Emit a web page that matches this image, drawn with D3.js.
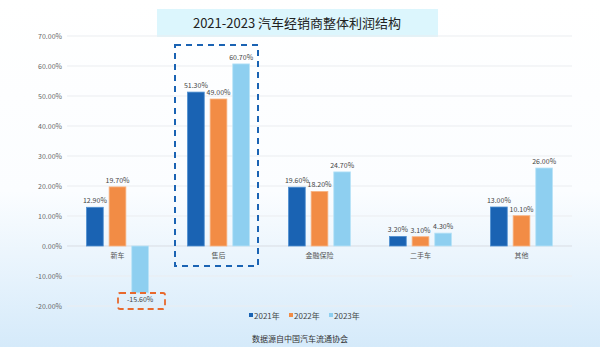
<!DOCTYPE html>
<html><head><meta charset="utf-8">
<script src="https://cdn.jsdelivr.net/npm/d3@7/dist/d3.min.js"></script>
<style>body{margin:0;padding:0;overflow:hidden}svg{display:block}</style>
</head><body>
<script>
const categories = ["新车","售后","金融保险","二手车","其他"];
const seriesNames = ["2021年","2022年","2023年"];
const v2021 = [12.9, 51.3, 19.6, 3.2, 13.0];
const v2022 = [19.7, 49.0, 18.2, 3.1, 10.1];
const v2023 = [-15.6, 60.7, 24.7, 4.3, 26.0];
const yTicks = [70,60,50,40,30,20,10,0,-10,-20];
const title = "2021-2023 汽车经销商整体利润结构";
const source = "数据源自中国汽车流通协会";
const colors = ["#1a63b3","#f28c45","#8ecff0"];
const strokes = ["#4f8fd0","#f8b586","#b9e3f7"];

const W=600,H=347;
const svg=d3.select("body").append("svg").attr("width",W).attr("height",H);
const defs=svg.append("defs");
const g=defs.append("linearGradient").attr("id","bg").attr("x1",0).attr("y1",0).attr("x2",0).attr("y2",1);
g.append("stop").attr("offset","0%").attr("stop-color","#ffffff");
g.append("stop").attr("offset","55%").attr("stop-color","#fbfdff");
g.append("stop").attr("offset","100%").attr("stop-color","#d5eafa");
svg.append("rect").attr("width",W).attr("height",H).attr("fill","url(#bg)");

const font="'Noto Sans CJK SC','Noto Sans',sans-serif";
// title
svg.append("rect").attr("x",157).attr("y",9).attr("width",281).attr("height",28).attr("fill","#dcf6fd");
svg.append("text").attr("x",297).attr("y",28).attr("text-anchor","middle").attr("font-family",font)
  .attr("font-size",13).attr("fill","#222").text(title);

const x0=d3.scaleBand().domain(categories).range([67,572]);
const y=d3.scaleLinear().domain([-20,70]).range([306,36]);
const x1=d3.scaleBand().domain(seriesNames).range([0,62]).paddingInner(0.26).paddingOuter(0);

// grid
svg.append("g").selectAll("line").data(yTicks).join("line")
  .attr("x1",67).attr("x2",572).attr("y1",d=>y(d)).attr("y2",d=>y(d))
  .attr("stroke",d=>d===0?"#d9dde3":"#ebedf0").attr("stroke-width",1);
svg.append("g").selectAll("text").data(yTicks).join("text")
  .attr("x",62).attr("y",d=>y(d)+2.5).attr("text-anchor","end").attr("font-family",font)
  .attr("font-size",7).attr("fill","#666").text(d=>d.toFixed(2)+"%");

const series=[v2021,v2022,v2023];
const groups=svg.append("g").selectAll("g").data(categories).join("g")
  .attr("transform",d=>`translate(${x0(d)+x0.bandwidth()/2-31},0)`);
series.forEach((vals,si)=>{
  groups.append("rect")
    .attr("x",x1(seriesNames[si])).attr("width",x1.bandwidth())
    .attr("y",(d,i)=>y(Math.max(0,vals[i])))
    .attr("height",(d,i)=>Math.abs(y(vals[i])-y(0)))
    .attr("fill",colors[si]).attr("stroke",strokes[si]).attr("stroke-width",0.8);
  groups.append("text")
    .attr("x",x1(seriesNames[si])+x1.bandwidth()/2)
    .attr("y",(d,i)=>vals[i]>=0?y(vals[i])-4:y(vals[i])+9)
    .attr("text-anchor","middle").attr("font-family",font).attr("font-size",7).attr("fill","#444")
    .text((d,i)=>vals[i].toFixed(2)+"%");
});
// category labels
svg.append("g").selectAll("text").data(categories).join("text")
  .attr("x",d=>x0(d)+x0.bandwidth()/2).attr("y",258).attr("text-anchor","middle")
  .attr("font-family",font).attr("font-size",7).attr("fill","#555").text(d=>d);

// dashed highlight boxes
svg.append("rect").attr("x",175).attr("y",45).attr("width",83).attr("height",221)
  .attr("fill","none").attr("stroke","#1a63b3").attr("stroke-width",2).attr("stroke-dasharray","6,5");
svg.append("rect").attr("x",118).attr("y",293).attr("width",47).attr("height",16).attr("rx",2)
  .attr("fill","none").attr("stroke","#e8692d").attr("stroke-width",1.8).attr("stroke-dasharray","6,4");

// legend
const lx=[249,289,329];
seriesNames.forEach((s,i)=>{
  svg.append("rect").attr("x",lx[i]).attr("y",313).attr("width",4).attr("height",4).attr("fill",colors[i]);
  svg.append("text").attr("x",lx[i]+5).attr("y",318.5).attr("font-family",font).attr("font-size",8)
    .attr("fill","#444").text(s);
});
svg.append("text").attr("x",300).attr("y",342).attr("text-anchor","middle").attr("font-family",font)
  .attr("font-size",8).attr("fill","#333").text(source);
</script>
</body></html>
